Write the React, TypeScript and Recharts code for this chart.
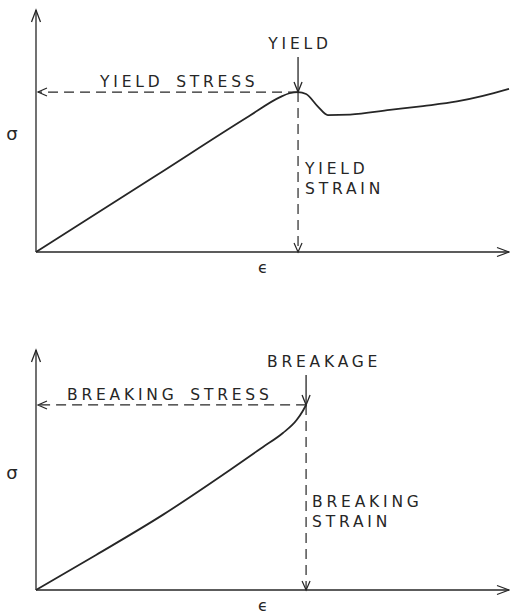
import React from "react";
import { LineChart, Line, XAxis, YAxis, ReferenceLine } from "recharts";

// Yield curve (upper diagram): strain / stress on a 0–100 scale
const yieldStrainPts = [0, 25.4, 45.0, 51.6, 53.6, 55.4, 57.1, 59.6, 61.7, 66.4, 74.8, 81.8, 89.0, 94.5, 100];
const yieldStressPts = [0, 31.6, 56.1, 64.0, 65.6, 66.1, 65.3, 60.1, 56.6, 56.8, 58.7, 60.3, 62.2, 64.5, 67.4];
const yieldPoint = { strain: 55.4, stress: 66.1 };

// Brittle curve (lower diagram)
const breakStrainPts = [0, 12.7, 26.8, 41.0, 48.0, 52.2, 55.1, 56.4, 57.1];
const breakStressPts = [0, 14.6, 31.3, 50.0, 59.6, 65.4, 70.8, 74.6, 77.1];
const breakPoint = { strain: 57.1, stress: 77.1 };

const axisDomain = [0, 100];

const ink = "#262626";
const lettering: React.CSSProperties = {
  fontFamily: '"DejaVu Sans", sans-serif',
  fontSize: 15.5,
  fontWeight: 400,
  letterSpacing: 3.8,
  wordSpacing: 4,
};

function arrowHead(tx: number, ty: number, fx: number, fy: number, len: number, half: number) {
  const dx = tx - fx;
  const dy = ty - fy;
  const d = Math.hypot(dx, dy) || 1;
  const ux = dx / d;
  const uy = dy / d;
  const bx = tx - ux * len;
  const by = ty - uy * len;
  const px = -uy;
  const py = ux;
  return `M${bx + px * half},${by + py * half}L${tx},${ty}L${bx - px * half},${by - py * half}`;
}

// axis with open arrow at the far end; symbol beside it
const axisShape = (symbol: string, vertical: boolean) => (p: any) => {
  const { x1, y1, x2, y2 } = p;
  return (
    <g>
      <line x1={x1} y1={y1} x2={x2} y2={y2} stroke={ink} strokeWidth={1.3} />
      <path d={arrowHead(x2, y2, x1, y1, 12, 4.5)} fill="none" stroke={ink} strokeWidth={1.3} />
      {vertical ? (
        <text x={x1 - 24} y={(y1 + y2) / 2 + 9} textAnchor="middle" fontSize={18} fontFamily='"DejaVu Sans", sans-serif' fill={ink}>
          {symbol}
        </text>
      ) : (
        <text x={x1 + 227} y={y1 + 21} textAnchor="middle" fontSize={16} fontFamily='"DejaVu Sans", sans-serif' fill={ink}>
          {symbol}
        </text>
      )}
    </g>
  );
};

// dashed leader to the stress axis, with caption above it
const stressLeader = (caption: string, captionOffset: number) => (p: any) => {
  const { x1, y1, x2, y2 } = p;
  return (
    <g>
      <line x1={x1} y1={y1} x2={x2 + 2} y2={y2} stroke={ink} strokeWidth={1.2} strokeDasharray="10 6" />
      <path d={arrowHead(x2 + 2, y2, x1, y1, 9, 4)} fill="none" stroke={ink} strokeWidth={1.2} />
      <text x={x2 + captionOffset} y={y2 - 5} fill={ink} style={lettering}>
        {caption}
      </text>
    </g>
  );
};

// dashed drop to the strain axis, pointer arrow from above, captions
const strainLeader = (
  title: string,
  titleDx: number,
  titleDy: number,
  pointerLen: number,
  lines: string[],
  linesDx: number,
  linesDy: number
) => (p: any) => {
  const { x1, y1, x2, y2 } = p;
  return (
    <g>
      <line x1={x1} y1={y1} x2={x2} y2={y2} stroke={ink} strokeWidth={1.2} strokeDasharray="10 6" />
      <path d={arrowHead(x2, y2, x1, y1, 9, 4)} fill="none" stroke={ink} strokeWidth={1.2} />
      <line x1={x1} y1={y1 - pointerLen} x2={x1} y2={y1} stroke={ink} strokeWidth={1.3} />
      <path d={arrowHead(x1, y1, x1, y1 - pointerLen, 10, 4)} fill="none" stroke={ink} strokeWidth={1.3} />
      <text x={x1 + titleDx} y={y1 - titleDy} textAnchor="middle" fill={ink} style={lettering}>
        {title}
      </text>
      {lines.map((t, i) => (
        <text key={t} x={x2 + linesDx} y={y2 - linesDy + i * 20} fill={ink} style={lettering}>
          {t}
        </text>
      ))}
    </g>
  );
};

export default function App() {
  const yieldData = yieldStrainPts.map((s, i) => ({ strain: s, stress: yieldStressPts[i] }));
  const breakData = breakStrainPts.map((s, i) => ({ strain: s, stress: breakStressPts[i] }));

  return (
    <div style={{ position: "absolute", left: 0, top: 0, width: 510, height: 615, background: "#fff" }}>
      <LineChart width={510} height={300} data={yieldData} margin={{ top: 10, right: 1, bottom: 48, left: 36 }}>
        <XAxis type="number" dataKey="strain" domain={axisDomain} hide />
        <YAxis type="number" domain={axisDomain} hide />
        <ReferenceLine segment={[{ x: 0, y: 0 }, { x: 0, y: 100 }]} shape={axisShape("σ", true)} />
        <ReferenceLine segment={[{ x: 0, y: 0 }, { x: 100, y: 0 }]} shape={axisShape("ϵ", false)} />
        <ReferenceLine
          segment={[{ x: yieldPoint.strain, y: yieldPoint.stress }, { x: 0, y: yieldPoint.stress }]}
          shape={stressLeader("YIELD STRESS", 64)}
        />
        <ReferenceLine
          segment={[{ x: yieldPoint.strain, y: yieldPoint.stress }, { x: yieldPoint.strain, y: 0 }]}
          shape={strainLeader("YIELD", 2, 43, 35, ["YIELD", "STRAIN"], 7, 78)}
        />
        <Line type="monotone" dataKey="stress" stroke={ink} strokeWidth={1.8} dot={false} isAnimationActive={false} />
      </LineChart>
      <LineChart width={510} height={315} data={breakData} margin={{ top: 50, right: 1, bottom: 25, left: 36 }}>
        <XAxis type="number" dataKey="strain" domain={axisDomain} hide />
        <YAxis type="number" domain={axisDomain} hide />
        <ReferenceLine segment={[{ x: 0, y: 0 }, { x: 0, y: 100 }]} shape={axisShape("σ", true)} />
        <ReferenceLine segment={[{ x: 0, y: 0 }, { x: 100, y: 0 }]} shape={axisShape("ϵ", false)} />
        <ReferenceLine
          segment={[{ x: breakPoint.strain, y: breakPoint.stress }, { x: 0, y: breakPoint.stress }]}
          shape={stressLeader("BREAKING STRESS", 31)}
        />
        <ReferenceLine
          segment={[{ x: breakPoint.strain, y: breakPoint.stress }, { x: breakPoint.strain, y: 0 }]}
          shape={strainLeader("BREAKAGE", 18, 38, 30, ["BREAKING", "STRAIN"], 6, 83)}
        />
        <Line type="monotone" dataKey="stress" stroke={ink} strokeWidth={1.8} dot={false} isAnimationActive={false} />
      </LineChart>
    </div>
  );
}
